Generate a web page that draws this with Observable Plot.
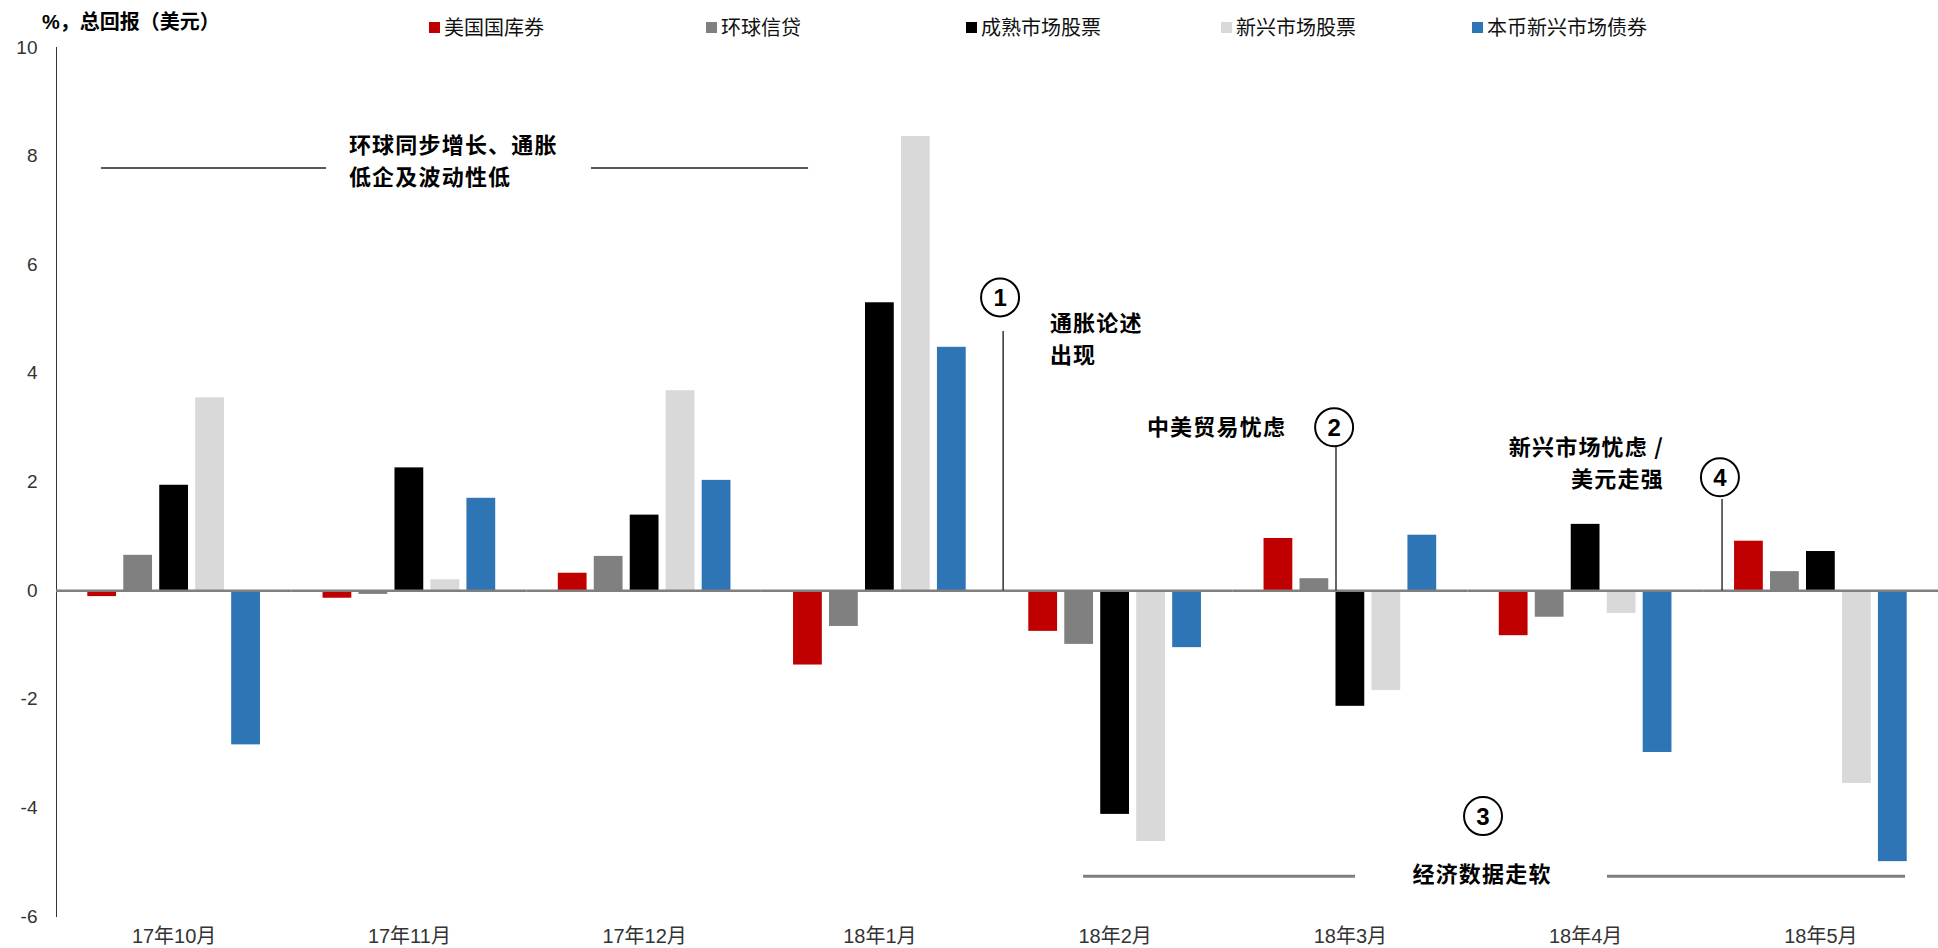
<!DOCTYPE html>
<html>
<head>
<meta charset="utf-8">
<script src="https://cdn.jsdelivr.net/npm/d3@7"></script>
<script src="https://cdn.jsdelivr.net/npm/@observablehq/plot@0.6"></script>
<style>
  body { margin: 0; background: #fff; font-family: "Liberation Sans", "Noto Sans CJK SC", sans-serif; }
  #header { position: relative; width: 1938px; height: 34px; z-index: 1; }
  #title { position: absolute; left: 42px; top: 10px; font-family: "Liberation Sans", "Noto Sans CJK SC", sans-serif; font-size: 20px; font-weight: bold; line-height: 24px; color: #000; white-space: nowrap; }
  .legend-item { position: absolute; top: 15px; display: flex; align-items: center; font-family: "Noto Sans CJK SC", sans-serif; font-size: 20px; line-height: 24px; color: #111; white-space: nowrap; }
  .swatch { width: 11px; height: 11px; margin-right: 4px; flex: none; }
  #chart svg { display: block; overflow: visible; }
</style>
</head>
<body>
<div id="header"><div id="title">%，总回报（美元）</div></div>
<div id="chart"></div>
<script>
// Monthly total returns (USD, %) by asset class
const months = ["17年10月", "17年11月", "17年12月", "18年1月", "18年2月", "18年3月", "18年4月", "18年5月"];
const seriesNames = ["美国国库券", "环球信贷", "成熟市场股票", "新兴市场股票", "本币新兴市场债券"];
const seriesColors = ["#C00000", "#808080", "#000000", "#D9D9D9", "#2E75B6"];

const usTreasuries   = [-0.11, -0.14, 0.32, -1.37, -0.75, 0.96, -0.83, 0.91];
const globalCredit   = [0.65, -0.07, 0.63, -0.66, -0.99, 0.22, -0.49, 0.35];
const dmEquities     = [1.94, 2.26, 1.39, 5.30, -4.12, -2.13, 1.22, 0.72];
const emEquities     = [3.55, 0.20, 3.68, 8.36, -4.62, -1.84, -0.42, -3.55];
const emLocalBonds   = [-2.84, 1.70, 2.03, 4.48, -1.05, 1.02, -2.98, -4.99];

const yTicks = [-6, -4, -2, 0, 2, 4, 6, 8, 10];

const seriesValues = [usTreasuries, globalCredit, dmEquities, emEquities, emLocalBonds];
const rows = seriesValues.flatMap((vals, s) =>
  vals.map((v, m) => ({month: months[m], series: seriesNames[s], value: v})));

// Legend above the chart
const legendLeft = [429, 706, 966, 1221, 1472];
const header = d3.select("#header");
seriesNames.forEach((name, i) => {
  const item = header.append("div").attr("class", "legend-item").style("left", legendLeft[i] + "px");
  item.append("div").attr("class", "swatch").style("background", seriesColors[i]);
  item.append("span").text(name);
});

const chart = Plot.plot({
  width: 1938,
  height: 914,
  marginLeft: 56,
  marginRight: 0,
  marginTop: 13,
  marginBottom: 32,
  style: {fontFamily: "'Liberation Sans', 'Noto Sans CJK SC', sans-serif", fontSize: "19px", color: "#333", background: "#fff"},
  fx: {domain: months, padding: 0, axis: "bottom", label: null, tickSize: 0, tickPadding: 12, round: false},
  x: {domain: seriesNames, axis: null, paddingInner: 0.2, paddingOuter: 0.87, round: false},
  y: {domain: [-6, 10], ticks: yTicks, tickSize: 0, tickPadding: 19, line: true, label: null, tickFormat: d => String(d)},
  color: {domain: seriesNames, range: seriesColors},
  marks: [
    Plot.barY(rows, {fx: "month", x: "series", y: "value", fill: "series"}),
    Plot.ruleY([0], {stroke: "#7f7f7f", strokeWidth: 2.5})
  ]
});
document.getElementById("chart").appendChild(chart);

const svg = d3.select(chart);
svg.selectAll('g[aria-label="fx-axis tick label"]').attr("font-size", 20);

// Annotation layer, positioned through the chart's own scales
const fxScale = chart.scale("fx");
const yScale = chart.scale("y");
const step = fxScale.apply(months[1]) - fxScale.apply(months[0]);
const X = i => fxScale.apply(months[0]) + i * step;   // fractional month index -> px
const Y = v => yScale.apply(v);                        // return value -> px

const ann = svg.append("g")
  .attr("font-family", "'Noto Sans CJK SC', sans-serif")
  .attr("font-weight", "bold")
  .attr("font-size", 22)
  .attr("letter-spacing", "1.2px")
  .attr("fill", "#000");

function hline(i1, i2, v, color, w) {
  ann.append("line").attr("x1", X(i1)).attr("x2", X(i2)).attr("y1", Y(v)).attr("y2", Y(v))
    .attr("stroke", color).attr("stroke-width", w);
}
function vline(i, v1, v2) {
  ann.append("line").attr("x1", X(i)).attr("x2", X(i)).attr("y1", Y(v1)).attr("y2", Y(v2))
    .attr("stroke", "#000").attr("stroke-width", 1.2);
}
// One text element per note; extra lines go into tspans at the given values
function label(i, anchor, lines) {
  const t = ann.append("text").attr("text-anchor", anchor);
  lines.forEach(([v, s]) => {
    t.append("tspan").attr("x", X(i)).attr("y", Y(v)).attr("dy", "0.36em").text(s);
  });
}
function marker(i, v, n) {
  ann.append("circle").attr("cx", X(i)).attr("cy", Y(v)).attr("r", 19)
    .attr("fill", "#fff").attr("stroke", "#000").attr("stroke-width", 2);
  ann.append("text").attr("x", X(i)).attr("y", Y(v)).attr("dy", "0.36em")
    .attr("text-anchor", "middle").attr("font-family", "'Liberation Sans', sans-serif")
    .attr("letter-spacing", "0px").attr("font-size", 24).text(n);
}

// Synchronised growth period
hline(0.191, 1.148, 7.77, "#222", 1.5);
hline(2.274, 3.197, 7.77, "#222", 1.5);
label(1.245, "start", [[8.19, "环球同步增长、通胀"], [7.60, "低企及波动性低"]]);

// ① inflation narrative
marker(4.013, 5.39, "1");
vline(4.026, 4.77, 0);
label(4.225, "start", [[4.92, "通胀论述"], [4.33, "出现"]]);

// ② trade tensions
marker(5.433, 3.00, "2");
vline(5.441, 2.65, 0);
label(5.229, "end", [[3.00, "中美贸易忧虑"]]);

// ④ EM worries / stronger dollar
marker(7.073, 2.08, "4");
vline(7.082, 1.68, 0);
label(6.835, "end", [[2.63, "新兴市场忧虑 /"], [2.04, "美元走强"]]);

// ③ softer economic data
marker(6.066, -4.16, "3");
hline(4.366, 5.522, -5.27, "#7f7f7f", 3);
hline(6.593, 7.860, -5.27, "#7f7f7f", 3);
label(6.062, "middle", [[-5.23, "经济数据走软"]]);
</script>
</body>
</html>
